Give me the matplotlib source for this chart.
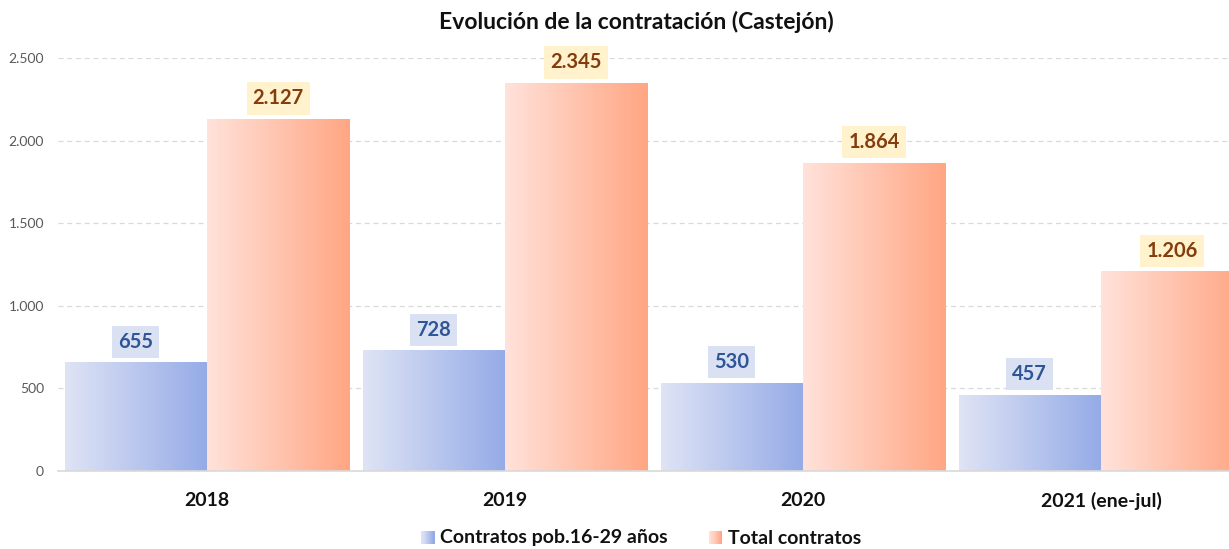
import matplotlib
matplotlib.use("Agg")
import matplotlib.pyplot as plt
import numpy as np
from matplotlib.colors import LinearSegmentedColormap
from matplotlib.patches import Rectangle
from matplotlib.legend_handler import HandlerBase

categories = ["2018", "2019", "2020", "2021 (ene-jul)"]
jovenes = [655, 728, 530, 457]
total = [2127, 2345, 1864, 1206]
series_names = ["Contratos pob.16-29 años", "Total contratos"]
ytick_vals = [0, 500, 1000, 1500, 2000, 2500]
ytick_labels = ["0", "500", "1.000", "1.500", "2.000", "2.500"]

def fmt(v):
    return f"{v:,}".replace(",", ".")

plt.rcParams['font.family'] = ['Lato', 'DejaVu Sans']

W, H = 1229, 549
fig = plt.figure(figsize=(W / 100, H / 100), dpi=100)
ax = fig.add_axes([58 / W, (H - 471) / H, 1192 / W, 413 / H])
ax.set_xlim(-0.5, len(categories) - 0.5)
ax.set_ylim(0, 2500)

blue_cmap = LinearSegmentedColormap.from_list("b", ["#dfe4f5", "#95abe7"])
orange_cmap = LinearSegmentedColormap.from_list("o", ["#ffe2da", "#ffa683"])
grad = np.linspace(0, 1, 256).reshape(1, -1)

bw = 0.478
x = np.arange(len(categories))
b1 = ax.bar(x - bw / 2, jovenes, width=bw, color="none", zorder=2)
b2 = ax.bar(x + bw / 2, total, width=bw, color="none", zorder=2)
for bars, cmap in ((b1, blue_cmap), (b2, orange_cmap)):
    for r in bars:
        x0, y0 = r.get_x(), r.get_y()
        w, h = r.get_width(), r.get_height()
        ax.imshow(grad, cmap=cmap, extent=[x0, x0 + w, y0, y0 + h],
                  aspect="auto", zorder=2, interpolation="bicubic")

for r, v in zip(b1, jovenes):
    ax.text(r.get_x() + r.get_width() / 2, v + 128, fmt(v), ha="center", va="center",
            fontsize=14.5, fontweight="bold", color="#2f5597",
            bbox=dict(boxstyle="square,pad=0.3", fc="#d9e1f2", ec="none"), zorder=4)
for r, v in zip(b2, total):
    ax.text(r.get_x() + r.get_width() / 2, v + 128, fmt(v), ha="center", va="center",
            fontsize=14.5, fontweight="bold", color="#843c0c",
            bbox=dict(boxstyle="square,pad=0.3", fc="#fff2cc", ec="none"), zorder=4)

ax.set_xlim(-0.5, len(categories) - 0.5)
ax.set_ylim(0, 2500)
ax.set_yticks(ytick_vals)
ax.set_yticklabels(ytick_labels, fontsize=10, color="#595959")
ax.set_xticks(x)
ax.set_xticklabels(categories, fontsize=14, fontweight="bold", color="#111111")
ax.tick_params(axis="y", length=0, pad=10)
ax.tick_params(axis="x", length=0, pad=15)
ax.yaxis.grid(True, linestyle=(0, (4, 3)), color="#d9d9d9", linewidth=0.9, zorder=0)
ax.set_axisbelow(True)
for s in ["top", "right", "left"]:
    ax.spines[s].set_visible(False)
ax.spines["bottom"].set_color("#d9d9d9")
ax.spines["bottom"].set_linewidth(1.2)

fig.text(636 / W, 1 - 22 / H, "Evolución de la contratación (Castejón)", ha="center",
         va="center", fontsize=16.5, fontweight="bold", color="#111111")

class GradHandler(HandlerBase):
    def __init__(self, cmap):
        super().__init__()
        self.cmap = cmap
    def create_artists(self, legend, orig_handle, xdescent, ydescent, width, height, fontsize, trans):
        n = 12
        s = height * 0.95
        x0 = -xdescent + width - s
        arts = []
        for i in range(n):
            arts.append(Rectangle((x0 + s * i / n, -ydescent), s / n + 0.2, s,
                                  facecolor=self.cmap(i / (n - 1)), edgecolor="none",
                                  transform=trans))
        return arts

h1 = Rectangle((0, 0), 1, 1)
h2 = Rectangle((0, 0), 1, 1)
leg = fig.legend([h1, h2], series_names, loc="center", bbox_to_anchor=(640 / W, 1 - 538 / H),
                 ncol=2, frameon=False, handler_map={h1: GradHandler(blue_cmap), h2: GradHandler(orange_cmap)},
                 prop={"weight": "bold", "size": 14}, handlelength=0.8, handletextpad=0.3,
                 columnspacing=2.0)
for t in leg.get_texts():
    t.set_color("#111111")

fig.savefig("out.png", dpi=100)
